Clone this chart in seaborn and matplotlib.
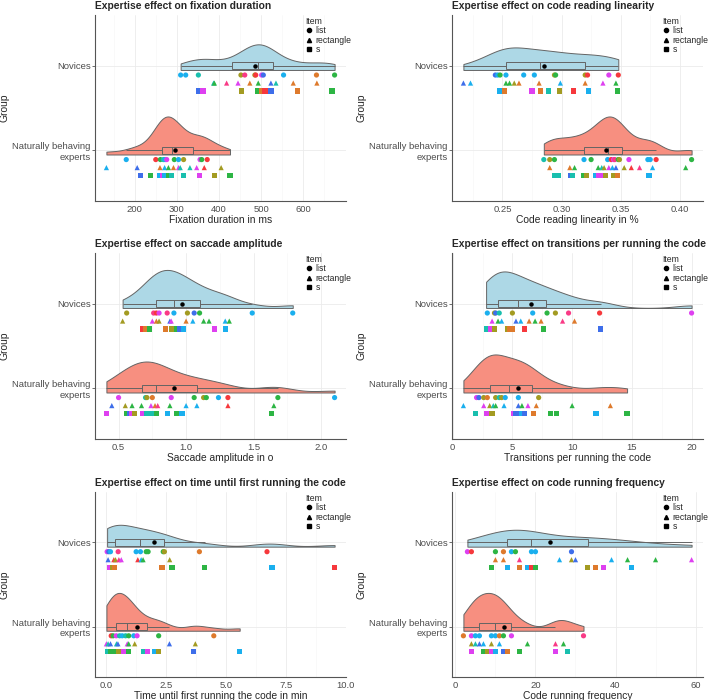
import matplotlib
matplotlib.use("Agg")
import matplotlib.pyplot as plt
from matplotlib.lines import Line2D
from matplotlib.ticker import AutoMinorLocator
import numpy as np
import pandas as pd
import seaborn as sns

# ---------------- data ----------------
NOV_LAB = "Novices"
EXP_LAB = "Naturally behaving experts"
ITEMS = ["list", "rectangle", "s"]

# colour codes of the participants (points)
PAL = {"r": "#F6383C", "o": "#DE7A2C", "y": "#A39B22", "g": "#2DB544",
       "t": "#19BFAE", "c": "#1AAFEE", "b": "#3E6EEA", "m": "#DE40F0",
       "p": "#F93A86"}

# fixation duration
fix_nov = {"list": [309, 321, 351, 452, 461, 485, 487, 501, 505, 553, 631, 674],
           "rectangle": [387, 389, 418, 445, 473, 493, 523, 535, 576, 632],
           "s": [352, 362, 454, 492, 501, 509, 523, 587, 668]}
fix_nov_col = {"list": "cctypyrmbcog", "rectangle": "tgpmogbtoo", "s": "bmygorbog"}
fix_exp = {"list": [180, 250, 261, 268, 272, 276, 294, 304, 316, 355, 359, 372],
           "rectangle": [133, 206, 260, 271, 280, 292, 304, 308, 331, 347, 365, 405],
           "s": [213, 237, 259, 267, 272, 280, 288, 316, 353, 389, 426]}
fix_exp_col = {"list": "crgtcmgcymgr", "rectangle": "cbocgomttmry", "s": "bgcmcgttmyg"}

# code reading linearity
lin_nov = {"list": [0.244, 0.246, 0.248, 0.253, 0.268, 0.277, 0.294, 0.295, 0.320, 0.322, 0.340, 0.348],
           "rectangle": [0.217, 0.223, 0.253, 0.256, 0.260, 0.264, 0.281, 0.299, 0.320, 0.335, 0.346],
           "s": [0.248, 0.252, 0.275, 0.282, 0.289, 0.298, 0.310, 0.323, 0.347]}
lin_nov_col = {"list": "bcgcccygyrmr", "rectangle": "bcggyoocomg", "s": "comotyrcg"}
lin_exp = {"list": [0.285, 0.290, 0.294, 0.319, 0.325, 0.339, 0.342, 0.344, 0.345, 0.348, 0.349,
                    0.357, 0.373, 0.375, 0.380, 0.410],
           "rectangle": [0.290, 0.307, 0.311, 0.331, 0.334, 0.336, 0.340, 0.343, 0.346, 0.353,
                         0.359, 0.366, 0.377, 0.405],
           "s": [0.294, 0.297, 0.308, 0.309, 0.319, 0.321, 0.329, 0.331, 0.335, 0.337, 0.344,
                 0.347, 0.374]}
lin_exp_col = {"list": "tygcgcrmpgymccrg", "rectangle": "ooggtymcbyrpcg", "s": "ttbtgycmmyyoc"}

# saccade amplitude
sac_nov = {"list": [0.56, 0.76, 0.78, 0.80, 0.86, 0.91, 1.01, 1.06, 1.10, 1.49, 1.79],
           "rectangle": [0.53, 0.75, 0.78, 0.80, 0.88, 0.89, 1.00, 1.05, 1.13, 1.17, 1.29, 1.32],
           "s": [0.68, 0.70, 0.73, 0.85, 0.89, 0.93, 0.95, 0.98, 1.21, 1.29]}
sac_nov_col = {"list": "yprmpcybgcc", "rectangle": "ymoybmocggcg", "s": "rogoygbcmc"}
sac_exp = {"list": [0.50, 0.70, 0.71, 0.75, 0.89, 1.06, 1.13, 1.15, 1.24, 1.31, 1.68, 2.10],
           "rectangle": [0.45, 0.55, 0.60, 0.67, 0.74, 0.77, 0.79, 0.88, 1.00, 1.08, 1.31, 1.65],
           "s": [0.41, 0.56, 0.58, 0.60, 0.62, 0.68, 0.71, 0.74, 0.78, 0.86, 0.93, 0.97, 1.63]}
sac_exp_col = {"list": "mtyomgygcrgc", "rectangle": "byggmopgccrg", "s": "mgbmymttgcgcg"}

# transitions per running the code
tra_nov = {"list": [2.9, 3.5, 3.6, 3.9, 5.0, 6.7, 7.9, 8.6, 9.7, 12.3, 20.0],
           "rectangle": [3.3, 3.8, 4.1, 5.3, 5.7, 6.4, 6.9, 7.4, 9.2, 10.2],
           "s": [2.8, 3.2, 3.5, 4.6, 4.8, 5.0, 6.0, 7.6, 12.4]}
tra_nov_col = {"list": "cybtycgyprm", "rectangle": "mgcbcogopo", "s": "tmyyoorgb"}
tra_exp = {"list": [2.0, 2.2, 2.6, 2.9, 3.6, 3.9, 4.1, 4.4, 5.5, 7.2],
           "rectangle": [0.9, 2.6, 3.1, 3.4, 3.6, 4.3, 5.5, 5.8, 6.3, 7.0, 10.0, 13.2],
           "s": [1.9, 2.8, 3.3, 5.1, 5.3, 5.8, 6.0, 6.8, 8.2, 8.7, 12.0, 14.6]}
tra_exp_col = {"list": "mbyoytyccy", "rectangle": "cmytgcbgmogo", "s": "tmymbcboggcg"}

# time until first running the code
tim_nov = {"list": [0.04, 0.11, 0.18, 0.50, 1.25, 1.43, 1.67, 1.75, 2.38, 2.43, 3.89, 6.71],
           "rectangle": [0.08, 0.32, 0.39, 0.53, 0.63, 1.32, 1.46, 1.54, 2.65],
           "s": [0.15, 0.25, 0.36, 2.33, 2.75, 4.11, 6.92, 9.53]}
tim_nov_col = {"list": "mbcpccgggyor", "rectangle": "brypmrcgy", "s": "myooggcr"}
tim_exp = {"list": [0.21, 0.29, 0.42, 0.56, 0.67, 0.81, 0.94, 1.15, 1.29, 2.19, 4.49],
           "rectangle": [0.01, 0.08, 0.18, 0.43, 0.49, 0.88, 0.94, 1.19, 2.64, 3.72],
           "s": [0.08, 0.18, 0.32, 0.53, 0.71, 0.94, 1.57, 1.71, 2.03, 2.19, 3.65, 5.57]}
tim_exp_col = {"list": "rgmtctgcmgo", "rectangle": "mtbtbmgyby", "s": "tggymgtmcybc"}

# code running frequency
frq_nov = {"list": [3, 4, 10, 12, 14, 15, 19, 20, 29],
           "rectangle": [10, 12, 16, 26, 29, 30, 39, 43, 50, 59],
           "s": [9, 13, 16, 18, 19, 20, 33, 35, 37, 44]}
frq_nov_col = {"list": "mrgocgccb", "rectangle": "oopcybcggm", "s": "gcocrgyomc"}
frq_exp = {"list": [2, 4, 5, 6, 9, 10, 11, 12, 14, 32],
           "rectangle": [4, 5, 6, 7, 9, 11, 18, 25, 27],
           "s": [4, 7, 8, 9, 10, 12, 13, 16, 25, 28]}
frq_exp_col = {"list": "omccccogmp", "rectangle": "ytbcycgpg", "s": "mgymcbogmt"}

titles = ["Expertise effect on fixation duration",
          "Expertise effect on code reading linearity",
          "Expertise effect on saccade amplitude",
          "Expertise effect on transitions per running the code",
          "Expertise effect on time until first running the code",
          "Expertise effect on code running frequency"]
xlabels = ["Fixation duration in ms", "Code reading linearity in %",
           "Saccade amplitude in o", "Transitions per running the code",
           "Time until first running the code in min", "Code running frequency"]
xticks = [[200, 300, 400, 500, 600], [0.25, 0.30, 0.35, 0.40], [0.5, 1.0, 1.5, 2.0],
          [0, 5, 10, 15, 20], [0.0, 2.5, 5.0, 7.5, 10.0], [0, 20, 40, 60]]
xfmt = ["{:.0f}", "{:.2f}", "{:.1f}", "{:.0f}", "{:.1f}", "{:.0f}"]

panels = [(fix_nov, fix_nov_col, fix_exp, fix_exp_col),
          (lin_nov, lin_nov_col, lin_exp, lin_exp_col),
          (sac_nov, sac_nov_col, sac_exp, sac_exp_col),
          (tra_nov, tra_nov_col, tra_exp, tra_exp_col),
          (tim_nov, tim_nov_col, tim_exp, tim_exp_col),
          (frq_nov, frq_nov_col, frq_exp, frq_exp_col)]

# ---------------- style ----------------
sns.set_theme(style="white")
plt.rcParams["font.family"] = ["Liberation Sans", "DejaVu Sans"]

GROUP_COL = {NOV_LAB: "#ADD8E6", EXP_LAB: "#F78F80", "_": "white"}
EDGE = "#646464"
MARKERS = {"list": "o", "rectangle": "^", "s": "s"}
ROW_OFF = {"list": 0.11, "rectangle": 0.205, "s": 0.30}
VW = 0.45          # violin height
BASE = 0.05        # violin baseline below group centre

W, H = 709, 700
fig = plt.figure(figsize=(W / 100, H / 100), dpi=100)
cols_px = [(95, 346), (452, 703)]
rows_px = [(15, 201), (253, 439), (492, 677)]


def nrd0(kde):
    # R's default bandwidth (bw.nrd0), returned as a factor of the sd
    x = np.asarray(kde.dataset).ravel()
    sd = x.std(ddof=1)
    q75, q25 = np.percentile(x, [75, 25])
    lo = min(sd, (q75 - q25) / 1.34)
    return 0.9 * lo * x.size ** -0.2 / sd


def draw_panel(ax, k):
    nov, novc, exp, expc = panels[k]
    rows = []
    for gpos, glab, vals, cols in [(0, NOV_LAB, nov, novc), (1, EXP_LAB, exp, expc)]:
        for item in ITEMS:
            for v, c in zip(vals[item], cols[item]):
                rows.append({"value": v, "group": glab, "gpos": gpos, "item": item,
                             "code": c, "ypt": gpos + ROW_OFF[item]})
    df = pd.DataFrame(rows)
    df["vpos"] = df["gpos"] + BASE - VW / 2

    ax.grid(True, which="major", color="#EBEBEB", lw=0.6)
    ax.xaxis.set_minor_locator(AutoMinorLocator(2))
    ax.grid(True, which="minor", axis="x", color="#F5F5F5", lw=0.4)
    ax.set_axisbelow(True)

    # half violins ("_" is an empty level so both halves open to the same side)
    sns.violinplot(data=df, x="value", y="vpos", hue="group",
                   hue_order=[EXP_LAB, "_", NOV_LAB], palette=GROUP_COL,
                   native_scale=True, orient="y", split=True, cut=0, inner=None,
                   density_norm="area", common_norm=True, width=VW, bw_method=nrd0,
                   saturation=1, linecolor=EDGE, linewidth=0.7, legend=False, ax=ax)
    sns.boxplot(data=df, x="value", y="gpos", hue="group",
                hue_order=[NOV_LAB, EXP_LAB], palette=GROUP_COL, native_scale=True,
                orient="y", width=0.08, showfliers=False, showcaps=False, showmeans=True,
                meanprops=dict(marker="o", markerfacecolor="black", markeredgecolor="black",
                               markersize=2.2),
                saturation=1, linecolor=EDGE, linewidth=0.7, legend=False, ax=ax)
    sns.scatterplot(data=df, x="value", y="ypt", hue="code", palette=PAL,
                    style="item", markers=MARKERS, s=14, linewidth=0, legend=False, ax=ax)

    lo, hi = df["value"].min(), df["value"].max()
    pad = 0.05 * (hi - lo)
    ax.set_xlim(lo - pad, hi + pad)
    ax.set_ylim(1.6, -0.6)
    ax.set_yticks([0, 1])
    ax.set_yticklabels([NOV_LAB, "Naturally behaving\nexperts"])
    ax.set_xticks(xticks[k])
    ax.set_xticklabels([xfmt[k].format(t) for t in xticks[k]])
    ax.tick_params(axis="both", which="major", labelsize=6.8, labelcolor="#4D4D4D",
                   length=2, width=0.6, color="#555555", pad=1, left=True, bottom=True)
    ax.tick_params(axis="x", which="major", length=0, pad=3)
    ax.tick_params(axis="x", which="minor", length=0)
    for s in ["top", "right"]:
        ax.spines[s].set_visible(False)
    for s in ["left", "bottom"]:
        ax.spines[s].set_color("#555555")
        ax.spines[s].set_linewidth(0.8)
    ax.set_xlabel(xlabels[k], fontsize=7.4, labelpad=0.5)
    ax.set_ylabel("Group", fontsize=7.4, labelpad=2)
    ax.set_title(titles[k], loc="left", fontweight="bold", fontsize=7.4, pad=4)

    handles = [Line2D([], [], marker=MARKERS[i], color="black", ls="", markersize=3)
               for i in ITEMS]
    leg = ax.legend(handles, ITEMS, title="Item", loc="upper right",
                    bbox_to_anchor=(1.03, 1.0), frameon=False, fontsize=6.2,
                    title_fontsize=6.2, handlelength=0.8, handletextpad=0.4,
                    labelspacing=0.05, borderaxespad=0.0, borderpad=0.2)
    leg._legend_box.align = "left"


for k in range(6):
    r, c = divmod(k, 2)
    x0, x1 = cols_px[c]
    y0, y1 = rows_px[r]
    ax = fig.add_axes([x0 / W, 1 - y1 / H, (x1 - x0) / W, (y1 - y0) / H])
    draw_panel(ax, k)

fig.savefig("out.png", dpi=100)
